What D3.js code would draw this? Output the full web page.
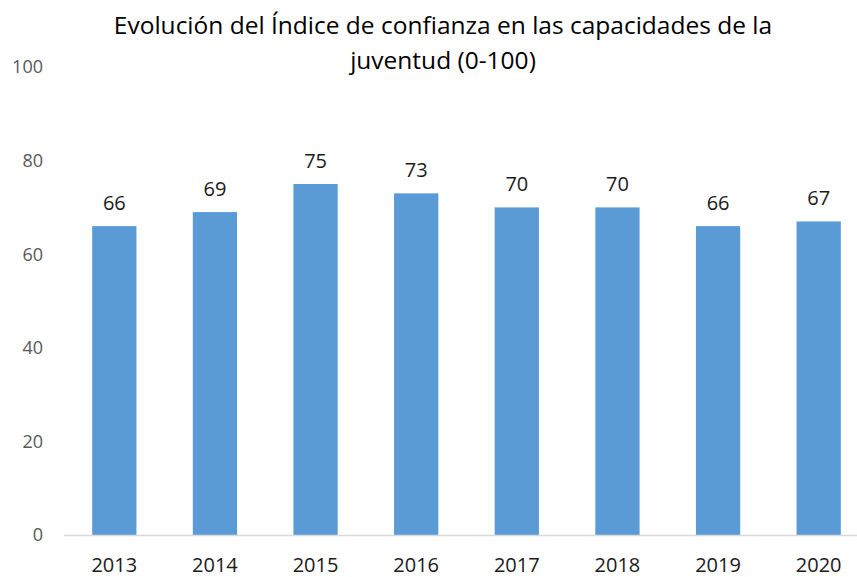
<!DOCTYPE html>
<html>
<head>
<meta charset="utf-8">
<script src="https://cdn.jsdelivr.net/npm/d3@7"></script>
<style>
  body { margin: 0; background: #fff; }
  svg { display: block; font-family: 'Open Sans', sans-serif; }
</style>
</head>
<body>
<svg id="chart" width="857" height="577"></svg>
<script>
const years = ['2013', '2014', '2015', '2016', '2017', '2018', '2019', '2020'];
const values = [66, 69, 75, 73, 70, 70, 66, 67];
const yTicks = [0, 20, 40, 60, 80, 100];
const titleLines = ['Evolución del Índice de confianza en las capacidades de la', 'juventud (0-100)'];

const width = 857, height = 577;
const svg = d3.select('#chart');

// plot area (right edge runs slightly past the picture, like the original)
const x = d3.scaleBand()
  .domain(years)
  .range([64, 869])
  .paddingInner(0.56)
  .paddingOuter(0.28);

const y = d3.scaleLinear()
  .domain([0, 100])
  .range([535, 67]);

// title
svg.append('g')
  .selectAll('text')
  .data(titleLines)
  .join('text')
  .attr('x', 443)
  .attr('y', (d, i) => 34 + i * 35)
  .attr('text-anchor', 'middle')
  .attr('font-size', 24.5)
  .attr('fill', '#000')
  .text(d => d);

// y axis labels
svg.append('g')
  .selectAll('text')
  .data(yTicks)
  .join('text')
  .attr('x', 43)
  .attr('y', d => y(d))
  .attr('dy', '0.35em')
  .attr('text-anchor', 'end')
  .attr('font-size', 18)
  .attr('fill', '#595959')
  .text(d => d);

// bars
svg.append('g')
  .selectAll('rect')
  .data(values)
  .join('rect')
  .attr('x', (d, i) => x(years[i]))
  .attr('y', d => y(d))
  .attr('width', x.bandwidth())
  .attr('height', d => y(0) - y(d))
  .attr('fill', '#5B9BD5');

// baseline
svg.append('line')
  .attr('x1', 64)
  .attr('x2', width)
  .attr('y1', y(0) + 0.5)
  .attr('y2', y(0) + 0.5)
  .attr('stroke', '#d9d9d9')
  .attr('stroke-width', 1.5);

// value labels
svg.append('g')
  .selectAll('text')
  .data(values)
  .join('text')
  .attr('x', (d, i) => x(years[i]) + x.bandwidth() / 2)
  .attr('y', d => y(d) - 16)
  .attr('text-anchor', 'middle')
  .attr('font-size', 20)
  .attr('fill', '#1a1a1a')
  .text(d => d);

// category labels
svg.append('g')
  .selectAll('text')
  .data(years)
  .join('text')
  .attr('x', d => x(d) + x.bandwidth() / 2)
  .attr('y', 572)
  .attr('text-anchor', 'middle')
  .attr('font-size', 20)
  .attr('fill', '#1a1a1a')
  .text(d => d);
</script>
</body>
</html>
